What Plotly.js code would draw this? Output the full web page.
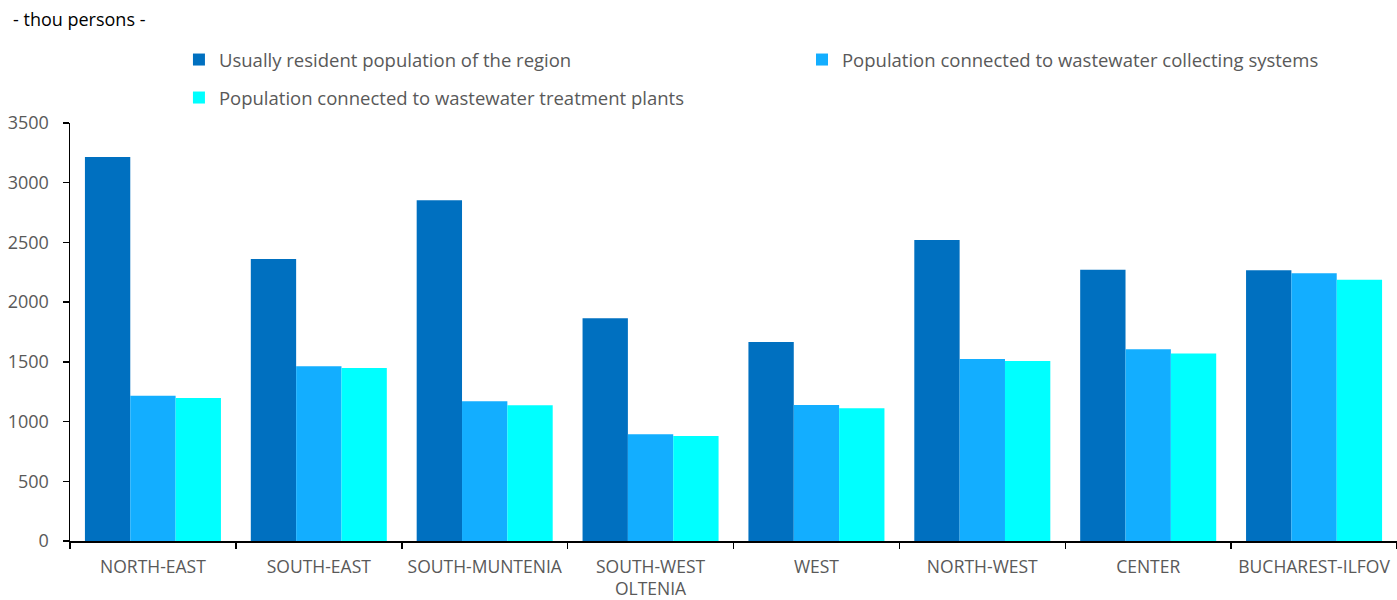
<!DOCTYPE html>
<html>
<head>
<meta charset="utf-8">
<script src="https://cdn.plot.ly/plotly-3.0.1.min.js"></script>
<style>html,body{margin:0;padding:0;background:#fff;}#chart{width:1397px;height:600px;}</style>
</head>
<body>
<div id="chart"></div>
<script>
const regions = ["NORTH-EAST", "SOUTH-EAST", "SOUTH-MUNTENIA", "SOUTH-WEST<br>OLTENIA", "WEST", "NORTH-WEST", "CENTER", "BUCHAREST-ILFOV"];
const residentPopulation = [3216, 2361, 2853, 1865, 1666, 2520, 2272, 2266];
const collectingSystems = [1217, 1463, 1170, 893, 1139, 1524, 1605, 2241];
const treatmentPlants = [1197, 1449, 1136, 879, 1111, 1507, 1571, 2188];
const seriesNames = [
  "Usually resident population of the region",
  "Population connected to wastewater collecting systems",
  "Population connected to wastewater treatment plants"
];
const unitLabel = "- thou persons -";

const FONT = "'Open Sans', Lato, sans-serif";
const GRAY = "#595959";

const traces = [
  {type: "bar", name: seriesNames[0], x: regions, y: residentPopulation,
   marker: {color: "#0070C0"}, legend: "legend"},
  {type: "bar", name: seriesNames[1], x: regions, y: collectingSystems,
   marker: {color: "#13AEFF"}, legend: "legend2"},
  {type: "bar", name: seriesNames[2], x: regions, y: treatmentPlants,
   marker: {color: "#00FFFF"}, legend: "legend3"}
];

const legendBase = {orientation: "h", xanchor: "left", yanchor: "middle",
  font: {family: FONT, size: 18.5, color: GRAY}, bgcolor: "rgba(0,0,0,0)"};

const layout = {
  width: 1397, height: 600,
  margin: {l: 70, r: 0, t: 123, b: 59},
  paper_bgcolor: "#fff", plot_bgcolor: "#fff",
  font: {family: FONT, size: 18, color: GRAY},
  barmode: "group", bargap: 0.18, bargroupgap: 0,
  showlegend: true,
  legend: Object.assign({}, legendBase, {x: 0.0821, y: 1.1507}),
  legend2: Object.assign({}, legendBase, {x: 0.5516, y: 1.1507}),
  legend3: Object.assign({}, legendBase, {x: 0.0821, y: 1.0598}),
  xaxis: {type: "category", showline: true, linecolor: "#000", linewidth: 1.5,
          ticks: "outside", tickson: "boundaries", ticklen: 6, tickcolor: "#000", tickwidth: 1.5,
          ticklabelstandoff: 9, tickangle: 0,
          showgrid: false, tickfont: {family: FONT, size: 17.5, color: GRAY}, fixedrange: true},
  yaxis: {range: [0, 3500], dtick: 500, showline: true, linecolor: "#000", linewidth: 1.5,
          ticks: "outside", ticklen: 6, tickcolor: "#000", tickwidth: 1.5,
          ticklabelstandoff: 10,
          showgrid: false, zeroline: false, tickfont: {family: FONT, size: 18, color: GRAY}},
  annotations: [{text: unitLabel, xref: "paper", yref: "paper", x: -0.0445, y: 1.2488,
                 xanchor: "left", yanchor: "middle", showarrow: false,
                 font: {family: FONT, size: 18, color: "#000"}}]
};

Plotly.newPlot("chart", traces, layout, {displayModeBar: false, staticPlot: true});
</script>
</body>
</html>
